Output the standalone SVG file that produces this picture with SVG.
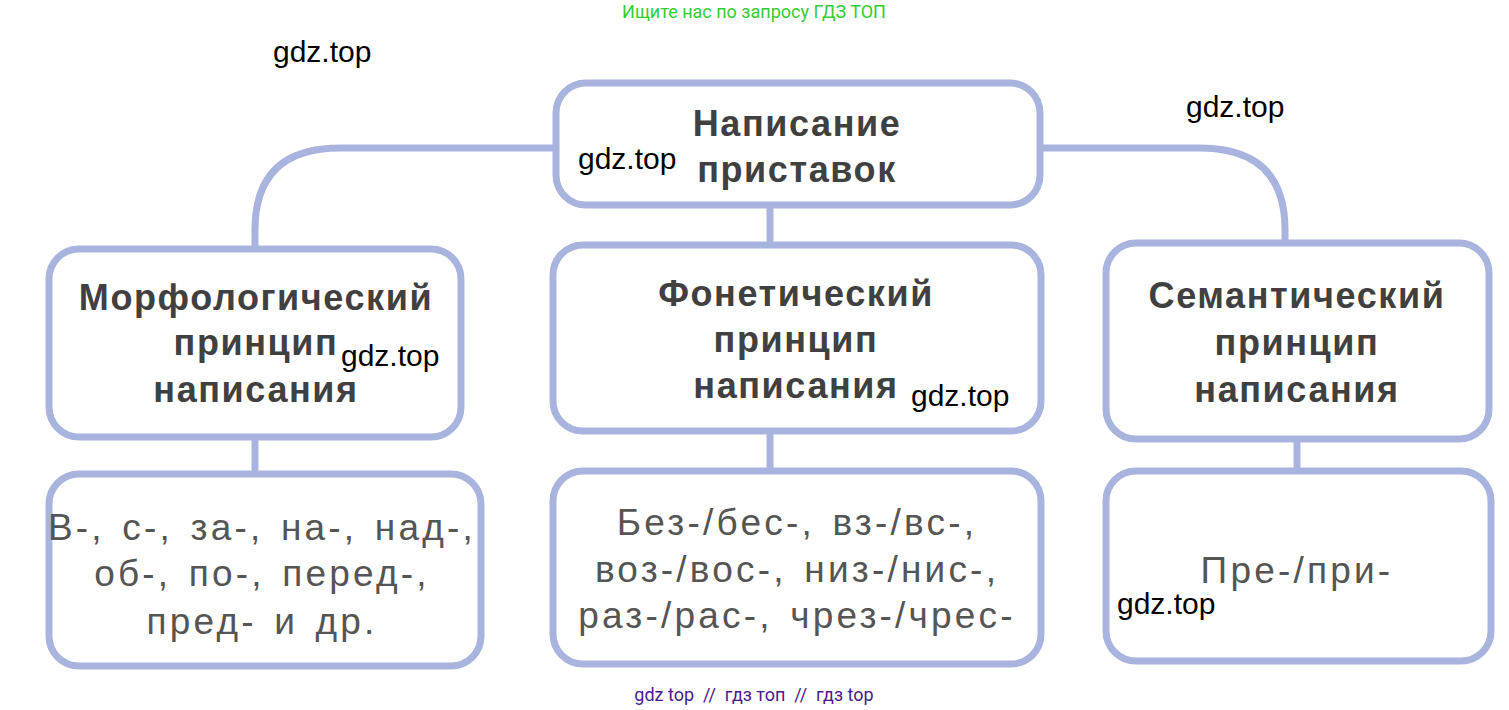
<svg xmlns="http://www.w3.org/2000/svg" width="1509" height="710" viewBox="0 0 1509 710">
<style>
.b{fill:#fff;stroke:#a9b4de;stroke-width:7}
.c{fill:none;stroke:#a9b4de;stroke-width:7}
.t{font-family:"Liberation Sans",Arial,sans-serif;font-weight:bold;font-size:36px;letter-spacing:1.6px;fill:#404040;text-anchor:middle}
.r{font-family:"Liberation Sans",Arial,sans-serif;font-size:37px;letter-spacing:3.2px;word-spacing:4px;fill:#555;text-anchor:middle}
.w{font-family:"Liberation Sans",Arial,sans-serif;font-size:30px;fill:#000}
.s{font-family:Roboto,"Liberation Sans",sans-serif;font-size:18px}
</style>
<rect width="1509" height="710" fill="#fff"/>
<g id="connectors">
<path class="c" d="M556 148 H340 Q255 148 255 230 V250"/>
<path class="c" d="M1040 148 H1200 Q1285 148 1285 230 V244"/>
<path class="c" d="M770 205 V246"/>
<path class="c" d="M255 436 V475"/>
<path class="c" d="M770 430 V472"/>
<path class="c" d="M1297 438 V472"/>
</g>
<g id="top"><rect class="b" x="556" y="83" width="484" height="122" rx="30"/>
<text class="t" x="797" y="136">Написание</text><text class="t" x="797" y="182">приставок</text></g>
<g id="morph"><rect class="b" x="49" y="249" width="412" height="188" rx="30"/>
<text class="t" x="256" y="310">Морфологический</text><text class="t" x="256" y="355">принцип</text><text class="t" x="256" y="402">написания</text></g>
<g id="phon"><rect class="b" x="553" y="245" width="488" height="186" rx="30"/>
<text class="t" x="796" y="306">Фонетический</text><text class="t" x="796" y="352">принцип</text><text class="t" x="796" y="398">написания</text></g>
<g id="sem"><rect class="b" x="1106" y="243" width="383" height="196" rx="30"/>
<text class="t" x="1297" y="308">Семантический</text><text class="t" x="1297" y="355">принцип</text><text class="t" x="1297" y="402">написания</text></g>
<g id="morphEx"><rect class="b" x="49" y="474" width="432" height="192" rx="30"/>
<text class="r" x="262" y="540">В-, с-, за-, на-, над-,</text><text class="r" x="262" y="586">об-, по-, перед-,</text><text class="r" x="262" y="634">пред- и др.</text></g>
<g id="phonEx"><rect class="b" x="553" y="471" width="488" height="193" rx="30"/>
<text class="r" x="797" y="535">Без-/бес-, вз-/вс-,</text><text class="r" x="797" y="582">воз-/вос-, низ-/нис-,</text><text class="r" x="797" y="628">раз-/рас-, чрез-/чрес-</text></g>
<g id="semEx"><rect class="b" x="1106" y="471" width="385" height="190" rx="30"/>
<text class="r" x="1297" y="583">Пре-/при-</text></g>
<text class="s" x="754" y="18" fill="#33cc33" text-anchor="middle">Ищите нас по запросу ГДЗ ТОП</text>
<text class="s" x="754" y="701" fill="#4b1a8a" text-anchor="middle" xml:space="preserve">gdz top  //  гдз топ  //  гдз top</text>
<text class="w" x="273" y="62">gdz.top</text>
<text class="w" x="1186" y="117">gdz.top</text>
<text class="w" x="578" y="169">gdz.top</text>
<text class="w" x="341" y="366">gdz.top</text>
<text class="w" x="911" y="406" font-size="24">gdz.top</text>
<text class="w" x="1117" y="614">gdz.top</text>
</svg>
